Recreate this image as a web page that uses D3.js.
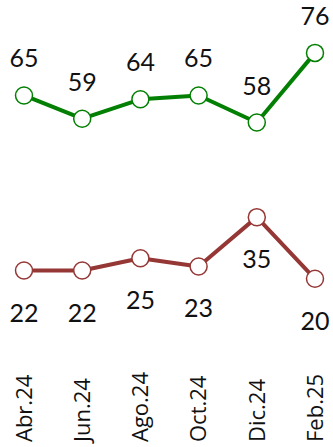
<!DOCTYPE html>
<html>
<head>
<meta charset="utf-8">
<script src="https://cdn.jsdelivr.net/npm/d3@7"></script>
<style>
  body { margin: 0; background: #fff; }
  svg { display: block; }
</style>
</head>
<body>
<svg id="chart" width="333" height="447"></svg>
<script>
// data
const months = ["Abr.24", "Jun.24", "Ago.24", "Oct.24", "Dic.24", "Feb.25"];
const greenValues = [65, 59, 64, 65, 58, 76];
const redValues = [22, 22, 25, 23, 35, 20];

const svg = d3.select('svg#chart');

const x = d3.scalePoint()
  .domain(months)
  .range([24, 315]);

// each line sits on its own (hidden) axis
const yGreen = d3.scaleLinear()
  .domain([0, 100])
  .range([347, -40]);

const yRed = d3.scaleLinear()
  .domain([0, 100])
  .range([361, -50]);

const series = [
  {name: 'green', values: greenValues, y: yGreen, color: '#038003', labelDy: -28},
  {name: 'red', values: redValues, y: yRed, color: '#953735', labelDy: 51}
];

series.forEach(s => {
  const g = svg.append('g').attr('class', 'series ' + s.name);

  const line = d3.line()
    .x((d, i) => x(months[i]))
    .y(d => s.y(d));

  g.append('path')
    .attr('d', line(s.values))
    .style('fill', 'none')
    .style('stroke', s.color)
    .style('stroke-width', 4)
    .style('stroke-linejoin', 'round');

  g.selectAll('circle')
    .data(s.values)
    .enter().append('circle')
      .attr('cx', (d, i) => x(months[i]))
      .attr('cy', d => s.y(d))
      .attr('r', 8.5)
      .style('fill', '#fff')
      .style('stroke', s.color)
      .style('stroke-width', 1.5);

  g.selectAll('text')
    .data(s.values)
    .enter().append('text')
      .attr('x', (d, i) => x(months[i]))
      .attr('y', d => s.y(d) + s.labelDy)
      .attr('text-anchor', 'middle')
      .style('font-family', 'Lato, sans-serif')
      .style('font-size', '25px')
      .style('fill', '#111')
      .text(d => d);
});

// rotated month labels
svg.append('g').attr('class', 'x-labels')
  .selectAll('text')
  .data(months)
  .enter().append('text')
    .attr('transform', d => `translate(${x(d)}, 442) rotate(-90)`)
    .attr('text-anchor', 'start')
    .attr('dy', '0.35em')
    .style('font-family', '"Open Sans", sans-serif')
    .style('font-size', '22px')
    .style('fill', '#111')
    .text(d => d);
</script>
</body>
</html>
